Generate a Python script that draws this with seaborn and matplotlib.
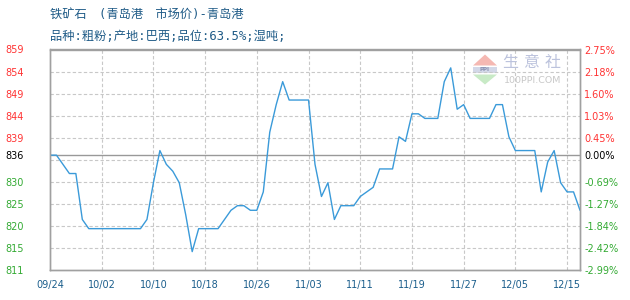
import numpy as np
import pandas as pd
import matplotlib
matplotlib.use("Agg")
import matplotlib.pyplot as plt
from matplotlib.patches import Polygon, Rectangle
import seaborn as sns

# ---------------- data ----------------
prices = [836, 836, 834, 832, 832, 822, 820, 820, 820, 820,
          820, 820, 820, 820, 820, 822, 830, 837, 834, 832.5,
          830, 823, 815, 820, 820, 820, 820, 822, 824, 825,
          825, 824, 824, 828, 841, 847, 852, 848, 848, 848,
          848, 834, 827, 830, 822, 825, 825, 825, 827, 828,
          829, 833, 833, 833, 840, 839, 845, 845, 844, 844,
          844, 852, 855, 846, 847, 844, 844, 844, 844, 847,
          847, 840, 837, 837, 837, 837, 828, 834.5, 837, 830,
          828, 828, 824]
date_labels = ["09/24", "10/02", "10/10", "10/18", "10/26", "11/03",
               "11/11", "11/19", "11/27", "12/05", "12/15"]
left_labels = ["859", "854", "849", "844", "839", "836",
               "830", "825", "820", "815", "811"]
right_labels = ["2.75%", "2.18%", "1.60%", "1.03%", "0.45%", "0.00%",
                "-0.69%", "-1.27%", "-1.84%", "-2.42%", "-2.99%"]
base_price = 836
y_top, y_bottom = 859, 811
title_line1 = "铁矿石\u3000(青岛港\u3000市场价)-青岛港"
title_line2 = "品种:粗粉;产地:巴西;品位:63.5%;湿吨;"

df = pd.DataFrame({"idx": np.arange(len(prices)), "price": prices})

# ---------------- style ----------------
sns.set_theme(style="white")
plt.rcParams["font.family"] = ["DejaVu Sans", "Noto Sans CJK SC"]

W, H = 630, 300
fig = plt.figure(figsize=(W / 100, H / 100), dpi=100)
fig.patch.set_facecolor("white")

ax_l, ax_r, ax_t, ax_b = 50, 580, 49.5, 270
ax = fig.add_axes([ax_l / W, 1 - ax_b / H, (ax_r - ax_l) / W, (ax_b - ax_t) / H])
ax.set_facecolor("white")

n = len(prices)
ax.set_xlim(0, n - 1)
ax.set_ylim(y_bottom, y_top)

# grid
grid_vals = np.linspace(y_top, y_bottom, len(left_labels))
for v in grid_vals[1:-1]:
    ax.axhline(v, color="#c8c8c8", lw=0.8, ls=(0, (3, 2)), zorder=1)
step = 8
xtick_pos = np.arange(0, step * len(date_labels), step)
for xv in xtick_pos[1:]:
    ax.axvline(xv, color="#c8c8c8", lw=0.8, ls=(0, (3, 2)), zorder=1)
ax.axhline(base_price, color="#999999", lw=1.0, zorder=2)

# line
sns.lineplot(data=df, x="idx", y="price", color="#3a9ad9", linewidth=1.0,
             ax=ax, zorder=3)
ax.set_xlabel("")
ax.set_ylabel("")

# y ticks (left)
ytick_pos = grid_vals.copy()
ytick_pos[5] = base_price

def label_color(v):
    if v > base_price + 1e-6:
        return "#ff3333"
    if v < base_price - 1e-6:
        return "#33aa33"
    return "#000000"

ax.set_yticks(ytick_pos)
ax.set_yticklabels(left_labels)
ax.tick_params(axis="y", length=0, pad=32.4, labelsize=7)
for lbl, v in zip(ax.get_yticklabels(), ytick_pos):
    lbl.set_horizontalalignment("left")
    lbl.set_color(label_color(v))

# x ticks
ax.set_xticks(xtick_pos)
ax.set_xticklabels(date_labels)
ax.tick_params(axis="x", length=0, pad=7.5, labelsize=7, labelcolor="#1b5e8c")

# right axis
ax2 = ax.twinx()
ax2.set_ylim(y_bottom, y_top)
ax2.set_yticks(ytick_pos)
ax2.set_yticklabels(right_labels)
ax2.tick_params(axis="y", length=0, pad=2.9, labelsize=7)
for lbl, v in zip(ax2.get_yticklabels(), ytick_pos):
    lbl.set_color(label_color(v))
ax2.grid(False)

for a in (ax, ax2):
    for s in a.spines.values():
        s.set_color("#a0a0a0")
        s.set_linewidth(1.0)
        s.set_visible(True)

# titles
title_fam = ["DejaVu Sans Mono", "Noto Sans CJK SC"]
fig.text(50 / W, 1 - 14.5 / H, title_line1, fontsize=8.8, color="#1f5b87",
         va="center", ha="left", family=title_fam)
fig.text(50 / W, 1 - 36.5 / H, title_line2, fontsize=8.8, color="#1f5b87",
         va="center", ha="left", family=title_fam)

# watermark logo
def fp(x, y):
    return (x / W, 1 - y / H)

tr = fig.transFigure
ax.add_patch(Polygon([fp(485, 54.5), fp(473, 65.5), fp(497, 65.5)], closed=True,
                     transform=tr, facecolor="#f5b8b2", edgecolor="none",
                     zorder=0.5, clip_on=False))
ax.add_patch(Rectangle(fp(473, 73), 24 / W, 6.5 / H, transform=tr,
                       facecolor="#d3d8e8", edgecolor="none", zorder=0.5,
                       clip_on=False))
ax.add_patch(Polygon([fp(473, 74.5), fp(497, 74.5), fp(485, 84.5)], closed=True,
                     transform=tr, facecolor="#c8eac6", edgecolor="none",
                     zorder=0.5, clip_on=False))
fig.text(*fp(485, 69.8), "PPI", fontsize=4, color="#8a92b2", ha="center",
         va="center", fontweight="bold")
for ch, cx in zip("生意社", [510, 531.5, 553]):
    fig.text(*fp(cx, 63), ch, fontsize=11.5, color="#bcc3dd", ha="center",
             va="center", family=["Noto Sans CJK SC", "DejaVu Sans"])
fig.text(*fp(532.5, 80.5), "100PPI.COM", fontsize=6.8, color="#c8c8c8",
         ha="center", va="center")

fig.savefig("out.png", dpi=100, facecolor="white")
